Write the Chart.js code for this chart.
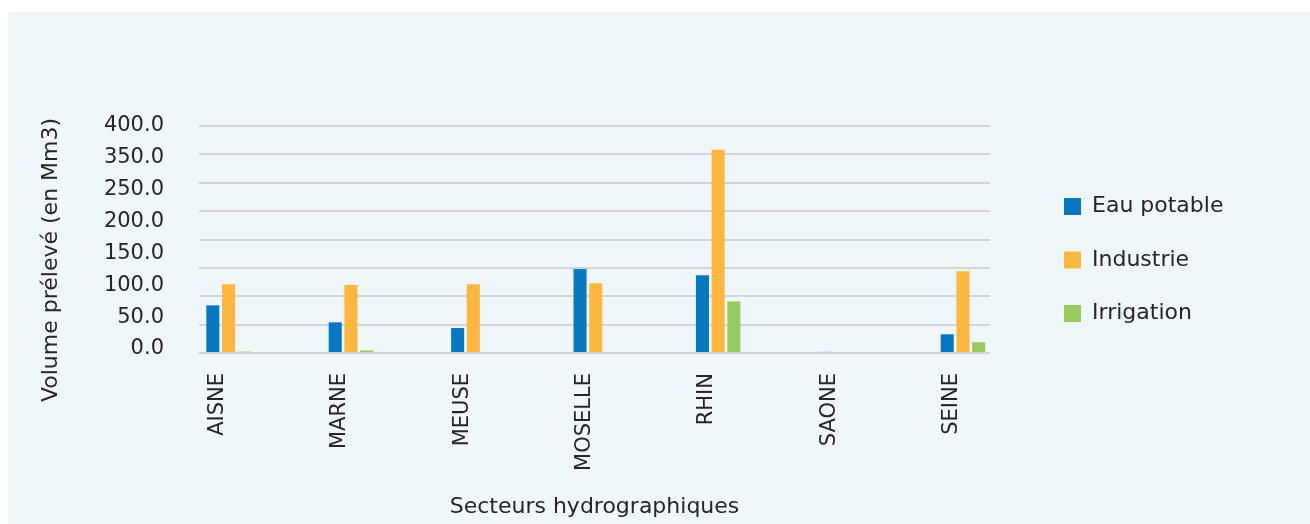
<!DOCTYPE html>
<html>
<head>
<meta charset="utf-8">
<script src="https://cdn.jsdelivr.net/npm/chart.js@4.4.1/dist/chart.umd.min.js"></script>
<style>
  body { margin: 0; background: #ffffff; }
  #wrap { position: absolute; left: 8px; top: 12px; width: 1302px; height: 512px; background: #eff7fa; }
</style>
</head>
<body>
<div id="wrap"><canvas id="c" width="1302" height="512"></canvas></div>
<script>
// secteurs et volumes preleves (Mm3)
const secteurs = ["AISNE", "MARNE", "MEUSE", "MOSELLE", "RHIN", "SAONE", "SEINE"]
const eauPotable = [84, 54, 44, 148, 137, 2, 33]
const industrie = [121, 120, 121, 123, 358, 0, 144]
const irrigation = [2.5, 4.5, 0, 0, 91, 0, 19]
const yTickLabels = ["0.0", "50.0", "100.0", "150.0", "200.0", "250.0", "350.0", "400.0"]
const gridValues = [0, 50, 100, 150, 200, 250, 300, 350, 400]

const textColor = "#262626"
const police = "'DejaVu Sans', sans-serif"

const toPoints = (arr) => arr.map((v, i) => ({ x: i, y: v }))

const canvas = document.getElementById("c")
const chart = new Chart(canvas, {
  type: "bar",
  data: {
    datasets: [
      { label: "Eau potable", data: toPoints(eauPotable), backgroundColor: "#0878c0" },
      { label: "Industrie", data: toPoints(industrie), backgroundColor: "#fdb73e" },
      { label: "Irrigation", data: toPoints(irrigation), backgroundColor: "#98ca62" }
    ]
  },
  options: {
    responsive: false,
    animation: false,
    categoryPercentage: 0.385,
    barPercentage: 0.83,
    layout: { padding: { top: 114, left: 0, bottom: 0, right: 80 } },
    plugins: {
      tooltip: { enabled: false },
      legend: {
        position: "right",
        fullSize: false,
        labels: {
          boxWidth: 17,
          boxHeight: 17,
          padding: 31.5,
          color: textColor,
          font: { family: police, size: 22 }
        }
      }
    },
    scales: {
      x: {
        type: "linear",
        offset: false,
        min: -0.2413,
        max: 6.2209,
        afterBuildTicks: (s) => { s.ticks = secteurs.map((_, i) => ({ value: i })) },
        afterFit: (s) => { s.height = 130 },
        grid: { display: false, drawTicks: false, offset: false },
        border: { display: false },
        ticks: {
          autoSkip: false,
          mirror: true,
          minRotation: 90,
          maxRotation: 90,
          padding: 21,
          labelOffset: 14,
          color: textColor,
          font: { family: police, size: 21 },
          callback: (v) => secteurs[v]
        },
        title: {
          display: true,
          text: "Secteurs hydrographiques",
          color: textColor,
          font: { family: police, size: 22, lineHeight: 1.2 },
          padding: { top: 0, bottom: 4 }
        }
      },
      // axe des valeurs : quadrillage seul, place a droite pour faire l'espace avant la legende
      y: {
        position: "right",
        min: -72.2,
        max: 400,
        afterBuildTicks: (s) => { s.ticks = gridValues.map((v) => ({ value: v })) },
        afterFit: (s) => { s.width = 42.5 },
        grid: { color: "#d2d4d6", lineWidth: 2, drawTicks: false },
        border: { display: false },
        ticks: { display: false }
      },
      y2: {
        position: "left",
        min: -1.412,
        max: 7,
        afterBuildTicks: (s) => { s.ticks = yTickLabels.map((_, i) => ({ value: i })) },
        afterFit: (s) => { s.width = 191 },
        grid: { display: false, drawTicks: false },
        border: { display: false },
        ticks: {
          padding: 35,
          color: textColor,
          font: { family: police, size: 21 },
          callback: (v) => yTickLabels[v]
        },
        title: {
          display: true,
          text: "Volume prélevé (en Mm3)",
          color: textColor,
          font: { family: police, size: 22, lineHeight: 1.2 },
          padding: { top: 30, bottom: 0 }
        }
      }
    }
  }
})

// caler la legende : bord gauche de la legende en 1024.5
const shift = chart.legend.left - 1024.5
chart.options.layout.padding.right += shift
chart.update()
</script>
</body>
</html>
